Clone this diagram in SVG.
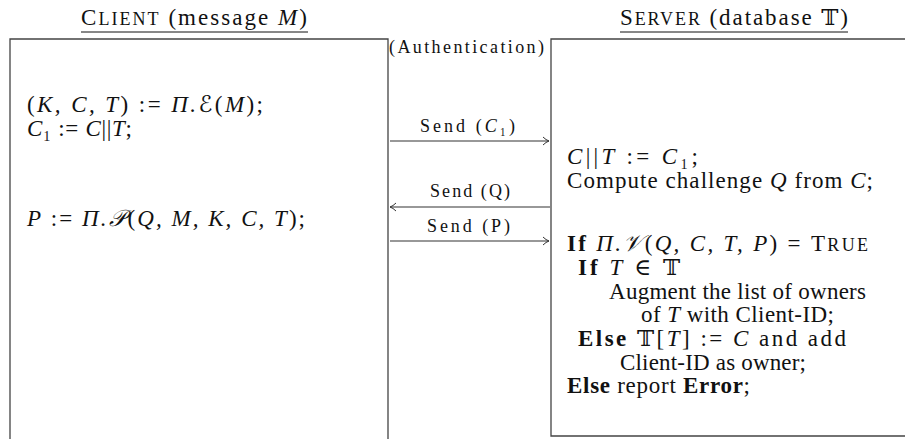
<svg xmlns="http://www.w3.org/2000/svg" width="905" height="439" viewBox="0 0 905 439">
<style>
text{font-family:"Liberation Serif","DejaVu Serif","DejaVu Sans",serif;fill:#111;font-size:23px}
.sm{font-size:18px}
.lbl{font-size:18px}
.it{font-style:italic}
.b{font-weight:bold}
.box{fill:none;stroke:#444;stroke-width:1.3}
.ul{stroke:#111;stroke-width:1}
.arr{stroke:#333;stroke-width:1.2;fill:none}
</style>
<defs>
<marker id="ah" markerWidth="10" markerHeight="10" refX="8" refY="5" orient="auto" markerUnits="userSpaceOnUse">
<path d="M2,1 Q5,4 8,5 Q5,6 2,9" fill="none" stroke="#333" stroke-width="1"/>
</marker>
</defs>
<g id="client">
<text x="194" y="25" text-anchor="middle" textLength="226">C<tspan class="sm">LIENT</tspan> (message <tspan class="it">M</tspan>)</text>
<line class="ul" x1="81" y1="32" x2="308" y2="32"/>
<path class="box" d="M10,439 V39 H388 V439"/>
<text x="27" y="112" textLength="236">(<tspan class="it">K, C, T</tspan>) := <tspan class="it">Π.ℰ</tspan>(<tspan class="it">M</tspan>);</text>
<text x="27" y="136" textLength="105"><tspan class="it">C</tspan>₁ := <tspan class="it">C</tspan>||<tspan class="it">T</tspan>;</text>
<text x="27" y="226" textLength="278"><tspan class="it">P</tspan> := <tspan class="it">Π.𝒫</tspan>(<tspan class="it">Q, M, K, C, T</tspan>);</text>
</g>
<g id="auth">
<text x="389" y="53" textLength="155" class="lbl">(Authentication)</text>
</g>
<g id="server">
<text x="734" y="25" text-anchor="middle" textLength="228">S<tspan class="sm">ERVER</tspan> (database 𝕋)</text>
<line class="ul" x1="620" y1="32" x2="848" y2="32"/>
<path class="box" d="M905,39 H551 V436 H905"/>
<text x="567" y="164" textLength="131"><tspan class="it">C</tspan>||<tspan class="it">T</tspan> := <tspan class="it">C</tspan>₁;</text>
<text x="567" y="188" textLength="306">Compute challenge <tspan class="it">Q</tspan> from <tspan class="it">C</tspan>;</text>
<text x="567" y="251" textLength="301"><tspan class="b">If</tspan> <tspan class="it">Π.𝒱</tspan>(<tspan class="it">Q, C, T, P</tspan>) = T<tspan class="sm">RUE</tspan></text>
<text x="578" y="275" textLength="102"><tspan class="b">If</tspan> <tspan class="it">T</tspan> ∈ 𝕋</text>
<text x="609" y="299" textLength="257">Augment the list of owners</text>
<text x="641" y="322" textLength="193">of <tspan class="it">T</tspan> with Client-ID;</text>
<text x="578" y="346" textLength="268"><tspan class="b">Else</tspan> 𝕋[<tspan class="it">T</tspan>] := <tspan class="it">C</tspan> and add</text>
<text x="620" y="370" textLength="186">Client-ID as owner;</text>
<text x="567" y="393" textLength="183"><tspan class="b">Else</tspan> report <tspan class="b">Error</tspan>;</text>
</g>
<g id="connectors">
<line class="arr" x1="390" y1="141" x2="549" y2="141" marker-end="url(#ah)"/>
<text x="420" y="132" class="lbl" textLength="95">Send (<tspan class="it">C</tspan>₁)</text>
<line class="arr" x1="550" y1="207" x2="390" y2="207" marker-end="url(#ah)"/>
<text x="430" y="197" class="lbl" textLength="80">Send (Q)</text>
<line class="arr" x1="390" y1="241" x2="549" y2="241" marker-end="url(#ah)"/>
<text x="427" y="232" class="lbl" textLength="83">Send (P)</text>
</g>
</svg>
